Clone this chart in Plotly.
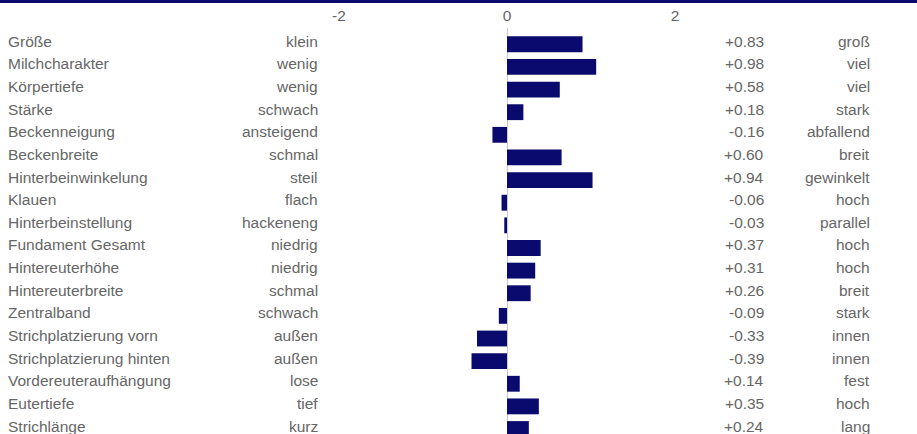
import plotly.graph_objects as go

traits = ["Größe", "Milchcharakter", "Körpertiefe", "Stärke", "Beckenneigung", "Beckenbreite",
          "Hinterbeinwinkelung", "Klauen", "Hinterbeinstellung", "Fundament Gesamt",
          "Hintereuterhöhe", "Hintereuterbreite", "Zentralband", "Strichplatzierung vorn",
          "Strichplatzierung hinten", "Vordereuteraufhängung", "Eutertiefe", "Strichlänge"]
low_labels = ["klein", "wenig", "wenig", "schwach", "ansteigend", "schmal", "steil", "flach",
              "hackeneng", "niedrig", "niedrig", "schmal", "schwach", "außen", "außen", "lose",
              "tief", "kurz"]
high_labels = ["groß", "viel", "viel", "stark", "abfallend", "breit", "gewinkelt", "hoch",
               "parallel", "hoch", "hoch", "breit", "stark", "innen", "innen", "fest",
               "hoch", "lang"]
values = [0.83, 0.98, 0.58, 0.18, -0.16, 0.60, 0.94, -0.06, -0.03, 0.37,
          0.31, 0.26, -0.09, -0.33, -0.39, 0.14, 0.35, 0.24]
tick_vals = [-2, 0, 2]
tick_text = ["-2", "0", "2"]

W, H = 917, 434
FONT = "Liberation Sans, Arial, sans-serif"
GREY = "#666666"
NAVY = "#0a0a6e"
FS = 15.5

fig = go.Figure()
fig.add_trace(go.Bar(
    y=traits, x=values, orientation="h", marker=dict(color=NAVY, line=dict(width=0)),
    width=0.7, hoverinfo="x+y", showlegend=False,
))
# invisible trace to carry the top tick axis
fig.add_trace(go.Scatter(x=[0], y=[traits[0]], xaxis="x2", mode="markers",
                         marker=dict(opacity=0), hoverinfo="skip", showlegend=False))

ann = []
for t, lo, hi, v in zip(traits, low_labels, high_labels, values):
    common = dict(xref="paper", yref="y", y=t, showarrow=False, yshift=3,
                  font=dict(family=FONT, size=FS, color=GREY))
    ann.append(dict(text=t, x=6 / W, xanchor="left", **common))
    ann.append(dict(text=lo, x=320 / W, xanchor="right", **common))
    ann.append(dict(text=f"{v:+.2f}", x=766 / W, xanchor="right", **common))
    ann.append(dict(text=hi, x=872 / W, xanchor="right", **common))

fig.update_layout(
    width=W, height=H,
    margin=dict(l=0, r=0, t=28, b=0),
    paper_bgcolor="white", plot_bgcolor="white",
    font=dict(family=FONT, size=FS, color=GREY),
    xaxis=dict(range=[-507 / 91, (W - 507) / 91], showgrid=False, showticklabels=False,
               zeroline=True, zerolinecolor="#c5c5e0", zerolinewidth=1, fixedrange=True),
    xaxis2=dict(range=[-507 / 84, (W - 507) / 84], overlaying="x", side="top",
                tickvals=tick_vals, ticktext=tick_text, showgrid=False, zeroline=False,
                ticks="", tickfont=dict(family=FONT, size=FS, color=GREY),
                ticklabelstandoff=3, fixedrange=True),
    yaxis=dict(categoryorder="array", categoryarray=traits, range=[17.22, -0.72],
               showticklabels=False, showgrid=False, zeroline=False, fixedrange=True),
    annotations=ann,
    shapes=[dict(type="rect", xref="paper", x0=0, x1=1, yref="paper", yanchor=1,
                 ysizemode="pixel", y0=25, y1=30, fillcolor=NAVY, line=dict(width=0))],
    bargap=0.3,
)

fig.write_html("out.html", config={"displayModeBar": False},
               post_script="document.body.style.margin='0';")
